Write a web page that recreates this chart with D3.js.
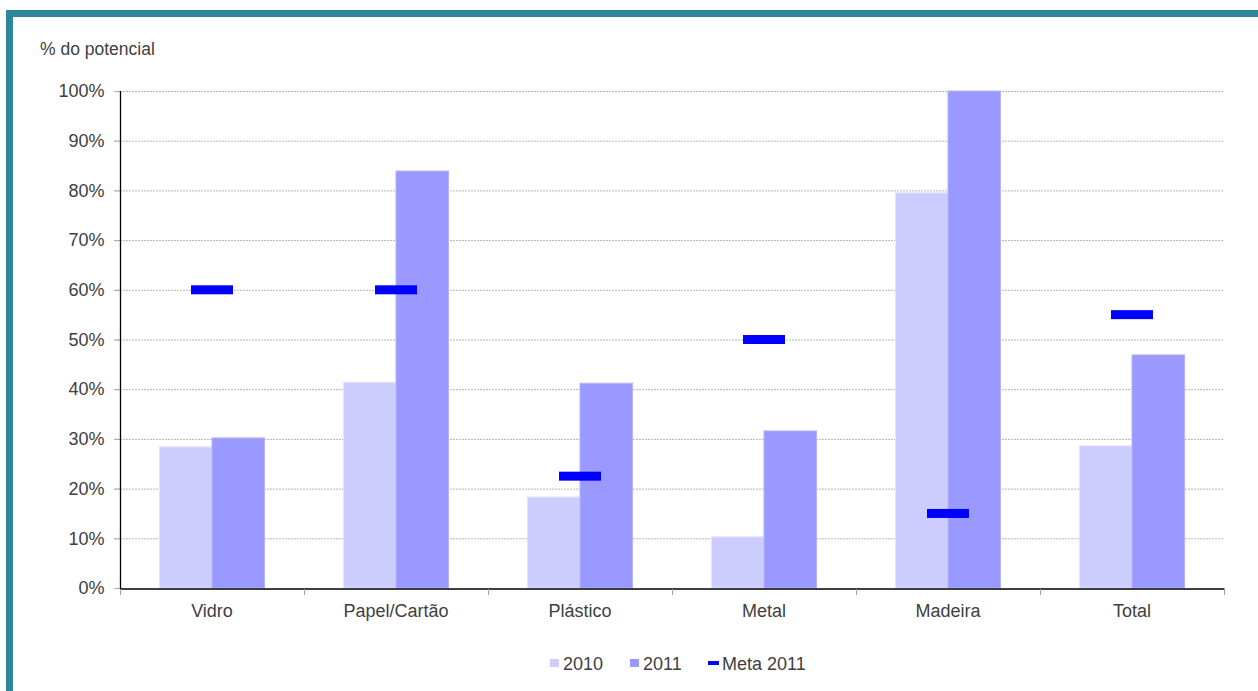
<!DOCTYPE html>
<html>
<head>
<meta charset="utf-8">
<script src="https://cdn.jsdelivr.net/npm/d3@7"></script>
<style>
  html, body { margin: 0; padding: 0; background: #fff; }
  svg { display: block; }
  text { font-family: "Liberation Sans", Arial, sans-serif; fill: #404040; }
</style>
</head>
<body>
<svg id="chart" width="1258" height="691"></svg>
<script>
const categories = ["Vidro", "Papel/Cartão", "Plástico", "Metal", "Madeira", "Total"];
const values2010 = [28.4, 41.4, 18.3, 10.3, 79.5, 28.6];
const values2011 = [30.2, 83.9, 41.2, 31.6, 100, 46.9];
const meta2011   = [60, 60, 22.5, 50, 15, 55];
const yTicks = [0, 10, 20, 30, 40, 50, 60, 70, 80, 90, 100];
const seriesNames = ["2010", "2011", "Meta 2011"];

(function () {
const FONT = '"Liberation Sans", Arial, sans-serif';
const svg = d3.select("#chart");
const W = 1258, H = 691;

// frame
svg.append("rect").attr("x", 6).attr("y", 10).attr("width", W - 6).attr("height", 7).attr("fill", "#2e8799");
svg.append("rect").attr("x", 6).attr("y", 10).attr("width", 7).attr("height", H - 10).attr("fill", "#2e8799");

const mLeft = 120, mRight = 1224, mTop = 91, mBottom = 588;

const x = d3.scaleBand().domain(categories).range([mLeft, mRight]).paddingInner(0).paddingOuter(0);
const y = d3.scaleLinear().domain([0, 100]).range([mBottom, mTop]);

// y label
svg.append("text").attr("x", 40).attr("y", 55).attr("font-size", 17.5).text("% do potencial");

// gridlines
svg.append("g").selectAll("line").data(yTicks.filter(d => d > 0)).join("line")
  .attr("x1", mLeft - 6).attr("x2", mRight)
  .attr("y1", d => y(d) + 0.5).attr("y2", d => y(d) + 0.5)
  .attr("stroke", "#b4b4b4").attr("stroke-width", 1).attr("stroke-dasharray", "2,1");

// y axis
const yAxis = d3.axisLeft(y).tickValues(yTicks).tickFormat(d => d + "%").tickSize(6).tickPadding(10);
const gy = svg.append("g").attr("transform", `translate(${mLeft + 0.5},0)`).call(yAxis);
gy.select(".domain").remove();
gy.selectAll(".tick line").attr("stroke", "#a8a8a8");
gy.selectAll(".tick text").attr("font-size", 18).attr("fill", "#404040").style("font-family", FONT);

// bars
const inner = d3.scaleBand().domain(["2010", "2011"]).range([0, x.bandwidth()]).paddingInner(0).paddingOuter(0.75);
const bw = inner.bandwidth();
const g = svg.append("g");
g.selectAll("rect.b10").data(categories).join("rect").attr("class", "b10")
  .attr("x", (d) => x(d) + inner("2010"))
  .attr("y", (d, i) => y(values2010[i]))
  .attr("width", bw)
  .attr("height", (d, i) => y(0) - y(values2010[i]))
  .attr("fill", "#ccccff").attr("stroke", "#e4e4ff").attr("stroke-width", 1);
g.selectAll("rect.b11").data(categories).join("rect").attr("class", "b11")
  .attr("x", (d) => x(d) + inner("2011"))
  .attr("y", (d, i) => y(values2011[i]))
  .attr("width", bw)
  .attr("height", (d, i) => y(0) - y(values2011[i]))
  .attr("fill", "#9999ff").attr("stroke", "#b4b4ff").attr("stroke-width", 1);

// meta markers
g.selectAll("rect.meta").data(categories).join("rect").attr("class", "meta")
  .attr("x", d => x(d) + x.bandwidth() / 2 - 21)
  .attr("y", (d, i) => y(meta2011[i]) - 4.5)
  .attr("width", 42).attr("height", 9)
  .attr("fill", "#0000ff");

// axis lines
svg.append("line").attr("x1", mLeft + 0.5).attr("x2", mLeft + 0.5).attr("y1", mTop).attr("y2", mBottom + 1)
  .attr("stroke", "#000").attr("stroke-width", 1.3);

const xAxis = d3.axisBottom(x).tickSize(0).tickPadding(16);
const gx = svg.append("g").attr("transform", `translate(0,${mBottom + 0.5})`).call(xAxis);
gx.select(".domain").attr("stroke", "#000").attr("stroke-width", 1.3);
gx.selectAll(".tick text").attr("font-size", 18).attr("fill", "#404040").style("font-family", FONT);
// category separator ticks
const bounds = categories.map(d => x(d)).concat([mRight]);
svg.append("g").selectAll("line").data(bounds).join("line")
  .attr("x1", d => d + 0.5).attr("x2", d => d + 0.5)
  .attr("y1", mBottom + 1).attr("y2", mBottom + 7)
  .attr("stroke", "#a0a0a0");

// legend
const lg = svg.append("g").attr("transform", "translate(0,663)");
const legendItems = [
  { name: seriesNames[0], x: 550, type: "box", color: "#ccccff" },
  { name: seriesNames[1], x: 630, type: "box", color: "#9999ff" },
  { name: seriesNames[2], x: 708, type: "line", color: "#0000ff" }
];
legendItems.forEach(it => {
  if (it.type === "box") {
    lg.append("rect").attr("x", it.x).attr("y", -4).attr("width", 9).attr("height", 8).attr("fill", it.color);
    lg.append("text").attr("x", it.x + 13).attr("y", 6.5).attr("font-size", 18).text(it.name);
  } else {
    lg.append("rect").attr("x", it.x).attr("y", -2).attr("width", 11).attr("height", 4).attr("fill", it.color);
    lg.append("text").attr("x", it.x + 14).attr("y", 6.5).attr("font-size", 18).text(it.name);
  }
});
})();
</script>
</body>
</html>
